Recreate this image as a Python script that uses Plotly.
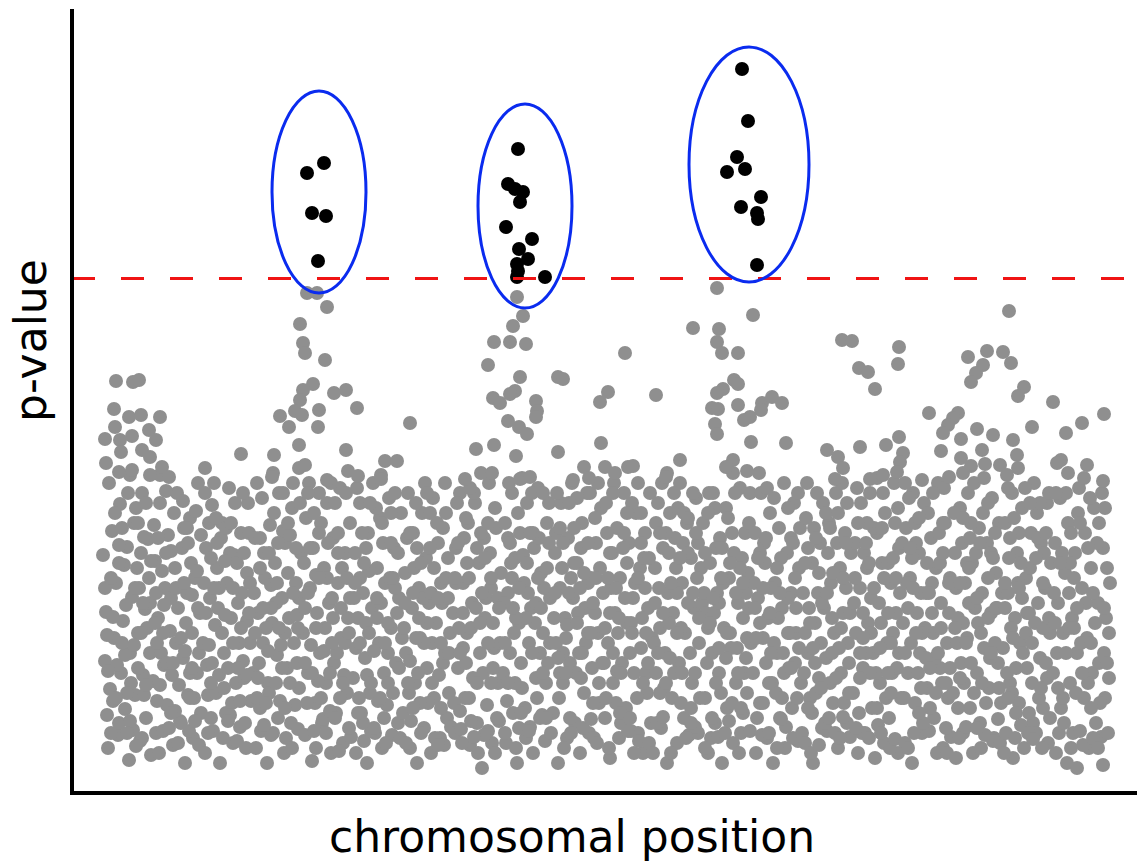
import plotly.graph_objects as go

# Coordinates: position along chromosome (x) and significance score (y)
threshold = 514.5

sig_cluster_1 = [(252, 630), (235, 620), (240, 580), (254, 577), (246, 532)]
sig_cluster_2 = [(446, 644), (436, 609), (443, 604), (451, 601), (448, 591), (434, 566),
                 (460, 554), (447, 544), (456, 534), (445, 529), (446, 522), (445, 516), (473, 516)]
sig_cluster_3 = [(670, 724), (676, 672), (665, 636), (655, 621), (673, 624), (689, 596),
                 (669, 586), (685, 580), (686, 574), (685, 528)]

# ellipse bounds (x0, x1, y0, y1)
ellipses = [(200, 294, 500, 702), (406, 500, 485, 689), (617, 737, 511, 746)]

gray_upper = [
    (235, 500), (245, 500), (255, 486), (228, 469), (231, 450), (233, 440), (253, 433), (44, 412),
    (61, 411), (67, 413), (241, 409), (231, 403), (262, 400), (274, 403), (228, 393), (42, 384),
    (223, 382), (247, 383), (285, 385), (57, 376), (69, 378), (88, 376), (208, 377), (230, 378),
    (217, 366), (246, 366), (338, 370), (43, 366), (77, 363), (33, 354), (60, 357), (48, 353),
    (84, 353), (227, 348), (274, 343), (49, 341), (70, 343), (78, 336), (169, 339), (202, 338),
    (34, 330), (313, 332), (325, 332), (90, 326), (133, 325), (227, 325), (233, 328), (47, 321),
    (60, 323), (276, 322), (200, 316), (78, 318), (286, 317), (309, 314), (97, 316), (255, 313),
    (445, 496), (645, 505), (451, 477), (441, 467), (681, 478), (621, 465), (647, 464), (422, 451),
    (438, 451), (454, 449), (645, 451), (553, 440), (650, 440), (666, 440), (416, 428), (448, 416),
    (486, 416), (491, 414), (662, 413), (666, 409), (536, 401), (443, 402), (438, 399), (651, 404),
    (645, 400), (584, 398), (421, 395), (428, 390), (528, 391), (464, 392), (465, 382), (464, 376),
    (640, 385), (646, 384), (666, 388), (690, 390), (700, 396), (710, 390), (689, 383), (678, 376),
    (672, 373), (436, 372), (447, 366), (455, 359), (643, 369), (645, 359), (404, 344), (422, 348),
    (444, 337), (486, 341), (529, 350), (679, 351), (714, 350), (608, 333), (512, 326), (533, 326),
    (556, 326), (561, 327), (661, 333), (654, 326), (675, 322), (420, 320), (393, 314), (448, 314),
    (458, 316), (543, 320), (594, 316), (501, 313), (517, 315),
    (937, 482), (770, 453), (780, 452), (827, 446), (826, 429), (787, 425), (796, 421), (803, 404),
    (896, 436), (915, 442), (931, 441), (939, 430), (911, 428), (904, 420), (899, 411), (952, 406),
    (946, 397), (981, 391), (857, 380), (886, 380), (881, 375), (876, 368), (871, 360), (905, 364),
    (921, 358), (889, 354), (941, 353), (960, 366), (1010, 370), (1032, 379), (994, 360), (755, 343),
    (766, 336), (771, 325), (788, 346), (814, 348), (827, 356), (831, 340), (828, 331), (825, 321),
    (869, 342), (910, 343), (889, 335), (899, 327), (913, 329), (928, 328), (945, 338), (946, 325),
    (989, 333), (985, 330), (1015, 328), (996, 320), (798, 314), (811, 318), (850, 313), (877, 316),
    (891, 320), (935, 318), (1031, 312), (763, 314),
]

gray_band_a = [
    (31,238),(34,181),(33,132),(35,78),(38,104),(40,262),(42,155),(44,210),(46,58),(48,289),(49,120),
    (51,172),(53,84),(55,246),(57,33),(58,140),(60,196),(62,270),(63,98),(65,225),(66,160),(68,52),
    (70,300),(71,118),(73,184),(74,75),(76,254),(78,140),(79,38),(37,310),(41,92),(45,128),(52,228),
    (56,300),(61,63),(64,285),(67,205),(72,98),(75,165),(77,215),(36,45),(50,265),(54,188),(59,110),
    (69,240),(43,280),(47,70),(62,148),(70,55),(33,205),(39,60),(58,318),(66,125),(74,290),(78,190),
    (47,230),(55,100),(64,47),(72,256),(35,158),
    (81,112),(83,232),(84,60),(86,175),(88,290),(89,140),(91,62),(93,205),(95,88),(96,258),(98,162),
    (100,118),(101,48),(103,225),(105,300),(106,185),(108,72),(110,245),(111,135),(113,30),(115,200),
    (116,98),(118,275),(120,160),(121,55),(123,215),(125,120),(126,310),(128,180),(129,80),(82,268),
    (85,150),(87,40),(90,222),(92,128),(94,302),(97,65),(99,195),(102,280),(104,150),(107,108),(109,70),
    (112,265),(114,170),(117,62),(119,230),(122,95),(124,282),(127,140),(85,92),(92,188),(99,242),
    (106,50),(113,142),(120,198),(127,48),(88,318),(103,82),(116,250),(125,222),(84,200),(95,130),
    (111,292),(118,120),(129,258),
    (131,150),(133,40),(134,245),(136,98),(138,195),(140,288),(141,62),(143,168),(145,225),(147,118),
    (148,30),(150,270),(152,140),(154,80),(155,210),(157,305),(159,175),(161,50),(162,238),(164,110),
    (166,190),(168,66),(169,260),(171,132),(173,70),(175,220),(176,290),(178,150),(179,92),(132,210),
    (135,128),(137,270),(139,75),(142,310),(144,100),(146,185),(149,255),(151,55),(153,178),(156,125),
    (158,240),(160,90),(163,290),(165,52),(167,150),(170,200),(172,115),(174,45),(177,260),(133,300),
    (140,130),(147,205),(154,265),(161,150),(168,92),(175,172),(136,60),(144,275),(158,78),(165,230),
    (171,300),(178,210),(152,105),(139,235),
]

gray_band_b = [
    (181,120),(183,255),(184,45),(186,180),(188,85),(190,295),(191,150),(193,215),(195,30),(196,110),
    (198,268),(200,170),(201,60),(203,230),(205,138),(207,300),(208,92),(210,195),(212,40),(213,250),
    (215,125),(217,175),(219,70),(220,285),(222,150),(224,210),(226,64),(227,105),(229,240),(182,200),
    (185,310),(187,130),(189,62),(192,240),(194,165),(197,100),(199,58),(202,280),(204,190),(206,75),
    (209,148),(211,262),(214,55),(216,220),(218,110),(221,310),(223,88),(225,178),(228,290),(185,95),
    (192,68),(199,208),(206,250),(213,160),(220,45),(227,195),(188,225),(196,142),(204,110),(211,300),
    (218,258),(225,130),(201,320),
    (231,160),(233,58),(234,275),(236,120),(238,205),(240,32),(241,245),(243,90),(245,180),(247,300),
    (248,140),(250,70),(252,225),(254,110),(255,290),(257,190),(259,40),(261,255),(262,130),(264,80),
    (266,210),(268,305),(269,155),(271,50),(273,240),(275,100),(276,175),(278,270),(279,56),(232,230),
    (235,90),(237,310),(239,148),(242,62),(244,218),(246,112),(249,270),(251,74),(253,165),(256,250),
    (258,82),(260,195),(263,290),(265,140),(267,42),(270,225),(272,118),(274,300),(277,65),(233,185),
    (240,120),(247,260),(254,60),(261,175),(268,95),(275,215),(236,300),(244,45),(252,142),(259,310),
    (266,260),(273,150),(278,195),
    (281,115),(283,240),(284,40),(286,175),(288,290),(289,80),(291,200),(293,135),(295,30),(296,260),
    (298,100),(300,185),(301,310),(303,60),(305,225),(307,150),(308,275),(310,45),(312,120),(313,210),
    (315,88),(317,295),(319,165),(320,58),(322,245),(324,130),(326,70),(327,195),(329,280),(282,195),
    (285,305),(287,95),(290,260),(292,52),(294,170),(297,222),(299,62),(302,142),(304,285),(306,92),
    (309,190),(311,250),(314,50),(316,140),(318,215),(321,100),(323,300),(325,180),(328,55),(284,145),
    (291,70),(298,290),(305,175),(312,75),(319,250),(326,240),(288,215),(295,118),(302,65),(309,318),
    (316,110),(323,205),(330,155),
    (331,80),(333,220),(334,140),(336,300),(338,45),(340,185),(341,260),(343,110),(345,30),(347,205),
    (348,155),(350,280),(352,65),(354,235),(355,125),(357,190),(359,40),(361,295),(362,95),(364,170),
    (366,250),(368,55),(369,210),(371,130),(373,310),(375,75),(376,235),(378,160),(379,66),(332,165),
    (335,255),(337,100),(339,72),(342,225),(344,290),(346,120),(349,60),(351,195),(353,310),(356,90),
    (358,245),(360,150),(363,55),(365,270),(367,118),(370,190),(372,48),(374,280),(377,100),(334,50),
    (341,200),(348,90),(355,300),(362,225),(369,85),(376,195),(338,132),(345,245),(352,150),(359,200),
    (366,48),(373,140),
]

gray_band_c = [
    (381,180),(383,60),(384,245),(386,125),(388,300),(389,64),(391,210),(393,95),(395,160),(396,270),
    (398,48),(400,190),(401,115),(403,290),(405,70),(407,230),(408,140),(410,25),(412,255),(413,175),
    (415,88),(417,310),(419,205),(420,50),(422,145),(424,265),(426,110),(427,72),(429,220),(382,90),
    (385,290),(387,165),(390,50),(392,255),(394,130),(397,215),(399,72),(402,300),(404,185),(406,40),
    (409,260),(411,120),(414,195),(416,62),(418,240),(421,170),(423,285),(425,75),(428,150),(384,210),
    (391,145),(398,305),(405,245),(412,58),(419,110),(426,195),(388,82),(395,230),(402,56),(409,320),
    (416,150),(423,40),
    (431,120),(433,270),(434,50),(436,200),(438,140),(440,300),(441,80),(443,235),(445,30),(447,170),
    (448,260),(450,105),(452,210),(454,55),(455,290),(457,150),(459,185),(461,40),(462,245),(464,115),
    (466,305),(468,75),(469,220),(471,160),(473,52),(475,270),(476,130),(478,195),(479,60),(432,190),
    (435,92),(437,310),(439,230),(442,160),(444,45),(446,280),(449,130),(451,238),(453,85),(456,200),
    (458,66),(460,300),(463,170),(465,95),(467,255),(470,78),(472,205),(474,110),(477,290),(433,60),
    (440,215),(447,65),(454,175),(461,260),(468,140),(475,225),(436,255),(443,110),(450,315),(457,62),
    (464,190),(471,300),(478,150),
    (481,80),(483,240),(484,150),(486,30),(488,205),(489,290),(491,110),(493,175),(495,55),(496,255),
    (498,130),(500,310),(501,195),(503,70),(505,230),(507,140),(508,40),(510,270),(512,100),(513,185),
    (515,300),(517,60),(519,215),(520,125),(522,55),(524,250),(526,160),(527,90),(529,285),(482,175),
    (485,300),(487,95),(490,225),(492,45),(494,155),(497,200),(499,60),(502,265),(504,120),(506,180),
    (509,245),(511,65),(514,150),(516,210),(518,300),(521,90),(523,180),(525,50),(528,225),(484,260),
    (491,140),(498,75),(505,295),(512,220),(519,74),(526,310),(488,120),(495,168),(502,230),(509,115),
    (516,160),(523,275),(530,130),
    (531,200),(533,75),(534,290),(536,150),(538,35),(540,240),(541,110),(543,180),(545,265),(547,55),
    (548,215),(550,130),(552,300),(554,85),(555,170),(557,250),(559,62),(561,195),(562,120),(564,280),
    (566,60),(568,225),(569,145),(571,40),(573,260),(575,100),(576,185),(578,300),(579,70),(532,130),
    (535,260),(537,45),(539,205),(542,310),(544,90),(546,160),(549,70),(551,245),(553,195),(556,62),
    (558,140),(560,290),(563,210),(565,95),(567,52),(570,175),(572,235),(574,120),(577,50),(534,95),
    (541,300),(548,80),(555,230),(562,40),(569,280),(576,130),(538,180),(545,122),(552,260),(559,170),
    (566,310),(573,205),(580,155),
]

gray_band_d = [
    (581,40),(583,225),(584,120),(586,290),(588,165),(589,65),(591,245),(593,140),(595,30),(596,200),
    (598,280),(600,95),(601,180),(603,255),(605,50),(607,130),(608,310),(610,210),(612,75),(613,160),
    (615,270),(617,58),(619,235),(620,110),(622,185),(624,295),(626,60),(627,150),(629,225),(582,150),
    (585,70),(587,205),(590,310),(592,105),(594,260),(597,170),(599,40),(602,120),(604,225),(606,285),
    (609,90),(611,250),(614,55),(616,190),(618,140),(621,300),(623,66),(625,215),(628,95),(584,270),
    (591,76),(598,135),(605,200),(612,280),(619,70),(626,250),(588,100),(595,320),(602,300),(609,165),
    (616,240),(623,120),(630,190),
    (631,270),(633,95),(634,180),(636,40),(638,230),(640,140),(641,300),(643,70),(645,200),(647,120),
    (648,255),(650,30),(652,165),(654,285),(655,85),(657,215),(659,145),(661,50),(662,240),(664,110),
    (666,190),(668,305),(669,60),(671,175),(673,260),(675,100),(676,220),(678,62),(679,150),(632,200),
    (635,130),(637,300),(639,55),(642,180),(644,245),(646,56),(649,100),(651,210),(653,60),(656,275),
    (658,160),(660,90),(663,300),(665,145),(667,40),(670,235),(672,120),(674,200),(677,270),(633,45),
    (640,75),(647,190),(654,135),(661,320),(668,225),(675,155),(636,165),(643,285),(650,245),(657,72),
    (664,200),(671,80),(678,300),
    (681,120),(683,260),(684,40),(686,195),(688,90),(689,300),(691,155),(693,230),(695,55),(696,175),
    (698,280),(700,110),(701,30),(703,210),(705,140),(707,265),(708,75),(710,185),(712,310),(713,45),
    (715,240),(717,125),(719,200),(720,85),(722,290),(724,160),(726,52),(727,225),(729,110),(682,210),
    (685,75),(687,320),(690,58),(692,250),(694,130),(697,60),(699,205),(702,295),(704,100),(706,175),
    (709,235),(711,140),(714,66),(716,285),(718,160),(721,55),(723,215),(725,95),(728,265),(684,155),
    (691,90),(698,180),(705,45),(712,120),(719,255),(726,300),(688,240),(695,305),(702,150),(709,74),
    (716,195),(723,130),(730,60),
    (731,200),(733,50),(734,275),(736,140),(738,95),(740,230),(741,30),(743,170),(745,300),(747,115),
    (748,250),(750,65),(752,185),(754,135),(755,62),(757,270),(759,210),(761,90),(762,160),(764,300),
    (766,45),(768,225),(769,120),(771,180),(773,260),(775,70),(776,150),(778,56),(779,240),(732,120),
    (735,310),(737,185),(739,40),(742,265),(744,100),(746,200),(749,150),(751,290),(753,70),(756,240),
    (758,110),(760,175),(763,60),(765,250),(767,145),(770,310),(772,90),(774,205),(777,130),(733,160),
    (740,80),(747,48),(754,280),(761,220),(768,55),(775,290),(736,245),(743,130),(750,190),(757,75),
    (764,115),(771,76),(778,180),
]

gray_band_e = [
    (781,100),(783,250),(784,160),(786,40),(788,205),(789,290),(791,125),(793,60),(795,225),(796,170),
    (798,300),(800,85),(801,140),(803,35),(805,260),(807,190),(808,110),(810,230),(812,50),(813,280),
    (815,150),(817,75),(819,210),(820,120),(822,310),(824,180),(826,40),(827,245),(829,95),(782,190),
    (785,305),(787,80),(790,60),(792,240),(794,140),(797,55),(799,195),(802,265),(804,120),(806,68),
    (809,170),(811,300),(814,95),(816,230),(818,45),(821,160),(823,270),(825,125),(828,200),(784,65),
    (791,180),(798,120),(805,315),(812,215),(819,150),(826,285),(788,140),(795,270),(802,205),(809,60),
    (816,120),(823,54),(830,250),
    (831,170),(833,50),(834,265),(836,120),(838,215),(840,30),(841,300),(843,90),(845,180),(847,240),
    (848,140),(850,60),(852,290),(854,200),(855,105),(857,62),(859,255),(861,160),(862,75),(864,225),
    (866,310),(868,125),(869,190),(871,45),(873,270),(875,150),(876,95),(878,215),(879,56),(832,95),
    (835,210),(837,295),(839,150),(842,60),(844,250),(846,120),(849,200),(851,70),(853,165),(856,280),
    (858,85),(860,210),(863,135),(865,40),(867,260),(870,110),(872,305),(874,65),(877,180),(833,310),
    (840,235),(847,80),(854,135),(861,300),(868,230),(875,40),(836,45),(843,270),(850,160),(857,200),
    (864,100),(871,240),(878,125),
    (881,100),(883,240),(884,35),(886,175),(888,285),(889,130),(891,60),(893,210),(895,155),(896,300),
    (898,85),(900,230),(901,40),(903,185),(905,120),(907,265),(908,70),(910,200),(912,145),(913,58),
    (915,250),(917,105),(919,180),(920,295),(922,55),(924,220),(926,130),(927,270),(929,90),(882,280),
    (885,150),(887,55),(890,250),(892,110),(894,66),(897,190),(899,130),(902,310),(904,240),(906,170),
    (909,45),(911,280),(914,90),(916,215),(918,135),(921,52),(923,260),(925,185),(928,50),(884,205),
    (891,170),(898,255),(905,65),(912,315),(919,240),(926,74),(888,115),(895,230),(902,100),(909,160),
    (916,290),(923,150),(930,200),
    (931,145),(933,270),(934,60),(936,200),(938,110),(940,300),(941,35),(943,175),(945,240),(947,90),
    (948,150),(950,285),(952,45),(954,215),(955,125),(957,180),(959,260),(961,70),(962,310),(964,60),
    (966,190),(968,135),(969,250),(971,85),(973,205),(975,290),(976,50),(978,160),(979,230),(932,40),
    (935,120),(937,235),(939,165),(942,275),(944,80),(946,210),(949,68),(951,140),(953,305),(956,60),
    (958,225),(960,110),(963,170),(965,280),(967,95),(970,45),(972,240),(974,130),(977,300),(933,210),
    (940,100),(947,260),(954,160),(961,54),(968,290),(975,115),(936,305),(943,55),(950,195),(957,80),
    (964,235),(971,165),(978,75),
    (981,120),(983,250),(984,40),(986,190),(988,295),(989,85),(991,160),(993,220),(995,30),(996,270),
    (998,110),(1000,175),(1001,60),(1003,240),(1005,140),(1007,305),(1008,62),(1010,205),(1012,95),
    (1013,260),(1015,155),(1017,45),(1019,225),(1020,120),(1022,285),(1024,70),(1026,190),(1027,130),
    (1029,56),(1031,245),(1033,95),(1034,175),(1036,60),(1038,210),(982,200),(985,140),(987,60),
    (990,240),(992,70),(994,300),(997,165),(999,45),(1002,215),(1004,100),(1006,280),(1009,150),
    (1011,48),(1014,190),(1016,110),(1018,295),(1021,55),(1023,170),(1025,250),(1028,90),(1030,300),
    (1032,140),(1035,225),(1037,115),(984,300),(991,95),(998,230),(1005,25),(1012,315),(1019,150),
    (1026,45),(1033,285),(1037,160),(1031,28),
]

gray_band_f = [
    (36,122),(41,176),(47,248),(53,138),(58,72),(63,205),(69,160),(74,108),(79,232),(44,95),(66,270),
    (39,215),(55,60),(71,190),(50,150),
    (83,170),(88,108),(94,240),(99,80),(104,205),(109,155),(115,265),(120,125),(126,185),(86,255),
    (101,130),(112,210),(123,72),(91,160),(118,95),
    (134,180),(139,110),(145,250),(150,160),(156,72),(161,205),(166,125),(172,240),(177,180),(142,205),
    (153,232),(169,165),(137,148),(159,270),(175,118),
    (183,160),(188,255),(194,90),(199,185),(205,210),(210,125),(216,270),(221,200),(226,165),(186,115),
    (197,240),(213,85),(224,245),(191,185),(207,165),
    (233,130),(238,245),(244,165),(249,95),(255,215),(260,150),(266,240),(271,110),(277,160),(236,200),
    (247,215),(258,120),(269,185),(242,280),(263,75),
    (283,210),(288,150),(294,245),(299,110),(305,195),(310,270),(316,170),(321,215),(327,125),(286,80),
    (297,160),(308,95),(319,280),(292,230),(313,150),
    (333,190),(338,260),(344,155),(349,230),(355,170),(360,110),(366,195),(371,265),(377,140),(336,110),
    (347,175),(358,280),(369,150),(341,85),(374,215),
    (383,215),(388,140),(394,275),(399,165),(405,110),(410,200),(416,270),(421,125),(427,185),(386,250),
    (397,95),(408,170),(419,215),(391,180),(413,235),
    (433,150),(438,250),(444,175),(449,80),(455,230),(460,140),(466,215),(471,120),(477,250),(436,110),
    (447,205),(458,260),(469,185),(441,185),(474,75),
    (483,200),(488,265),(494,120),(499,215),(505,170),(510,140),(516,250),(521,190),(527,110),(486,135),
    (497,290),(508,205),(519,160),(491,250),(524,215),
    (533,165),(538,240),(544,205),(549,120),(555,280),(560,160),(566,215),(571,110),(577,235),(536,215),
    (547,175),(558,75),(569,250),(541,140),(574,160),
    (583,190),(588,260),(594,110),(599,210),(605,160),(610,120),(616,275),(621,200),(627,175),(586,140),
    (597,240),(608,235),(619,85),(591,180),(624,260),
    (633,240),(638,170),(644,110),(649,215),(655,160),(660,260),(666,120),(671,210),(677,185),(636,280),
    (647,145),(658,230),(669,85),(641,195),(674,135),
    (683,185),(688,170),(694,255),(699,140),(705,225),(710,95),(716,160),(721,250),(727,145),(686,235),
    (697,110),(708,200),(719,125),(691,205),(724,185),
    (733,230),(738,170),(744,255),(749,105),(755,200),(760,140),(766,280),(771,215),(777,100),(736,85),
    (747,220),(758,265),(769,165),(741,145),(774,250),
    (783,215),(788,115),(794,250),(799,160),(805,85),(810,265),(816,180),(821,235),(827,140),(786,270),
    (797,230),(808,145),(819,100),(791,155),(824,215),
    (833,140),(838,245),(844,160),(849,105),(855,230),(860,180),(866,140),(871,270),(877,210),(836,185),
    (847,275),(858,125),(869,165),(841,205),(874,110),
    (883,165),(888,210),(894,150),(899,270),(905,195),(910,110),(916,175),(921,235),(927,105),(886,85),
    (897,225),(908,250),(919,140),(891,275),(924,185),
    (933,185),(938,255),(944,125),(949,230),(955,180),(960,150),(966,255),(971,210),(977,175),(936,95),
    (947,205),(958,290),(969,105),(941,155),(974,260),
    (983,170),(988,230),(994,140),(999,260),(1005,185),(1010,120),(1016,245),(1021,200),(1027,270),
    (1032,185),(986,105),(997,200),(1008,270),(1019,85),(1035,130),(1002,165),
]

x_title = "chromosomal position"
y_title = "p-value"

GRAY = "#8f8f8f"
BLUE = "#0a2bef"
RED = "#f01414"

gray_all = (gray_band_a + gray_band_b + gray_band_c + gray_band_d + gray_band_e + gray_band_f
            + gray_upper)
sig_all = sig_cluster_1 + sig_cluster_2 + sig_cluster_3

fig = go.Figure()
fig.add_trace(go.Scatter(
    x=[p[0] for p in gray_all], y=[p[1] for p in gray_all], mode="markers",
    marker=dict(size=14, color=GRAY, line=dict(width=0)), hoverinfo="skip", showlegend=False,
    cliponaxis=False))
fig.add_trace(go.Scatter(
    x=[p[0] for p in sig_all], y=[p[1] for p in sig_all], mode="markers",
    marker=dict(size=14, color="black", line=dict(width=0)), hoverinfo="skip", showlegend=False,
    cliponaxis=False))

fig.add_shape(type="line", xref="x", yref="y", x0=0, x1=1065, y0=threshold, y1=threshold,
              line=dict(color=RED, width=3, dash="23px,26px"), layer="above")
for (ex0, ex1, ey0, ey1) in ellipses:
    fig.add_shape(type="circle", xref="x", yref="y", x0=ex0, x1=ex1, y0=ey0, y1=ey1,
                  line=dict(color=BLUE, width=3), fillcolor="rgba(0,0,0,0)", layer="above")

# plot area spans pixels x 74..1137, y 9..791
fig.add_annotation(x=(571.5 - 74) / 1063, y=(791 - 836) / 782, xref="paper", yref="paper",
                   text=x_title, showarrow=False,
                   font=dict(family="DejaVu Sans", size=44, color="black"),
                   xanchor="center", yanchor="middle")
fig.add_annotation(x=(30 - 74) / 1063, y=(791 - 340) / 782, xref="paper", yref="paper",
                   text=y_title, showarrow=False, textangle=-90,
                   font=dict(family="DejaVu Sans", size=44, color="black"),
                   xanchor="center", yanchor="middle")

axis_common = dict(showline=True, linewidth=3.5, linecolor="black", showticklabels=False,
                   ticks="", showgrid=False, zeroline=False, mirror=False, fixedrange=True)
fig.update_layout(
    width=1137, height=863,
    margin=dict(l=74, r=0, t=9, b=72, pad=0),
    paper_bgcolor="white", plot_bgcolor="white",
    xaxis=dict(range=[2, 1065], **axis_common),
    yaxis=dict(range=[2, 784], **axis_common),
    showlegend=False,
)

fig.write_html("out.html", config={"displayModeBar": False})
